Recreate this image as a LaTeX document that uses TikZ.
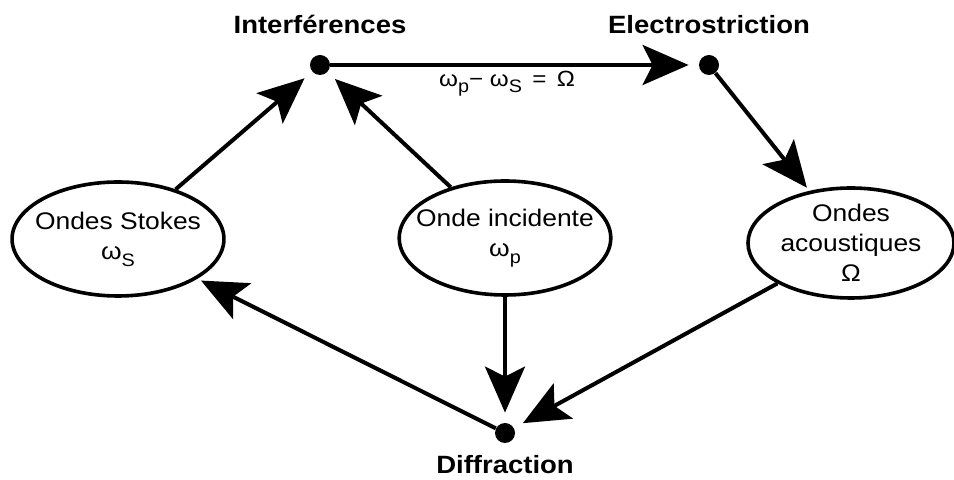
\documentclass[tikz,border=0pt]{standalone}
\usepackage{fontspec}
\setmainfont{Liberation Sans}[FakeStretch=1.1]
\usetikzlibrary{positioning,shapes.geometric,arrows.meta}
\newcommand{\lowsub}[1]{\raisebox{-0.55ex}{\fontsize{9}{9}\selectfont #1}}

\begin{document}
\begin{tikzpicture}[
  x=0.5pt, y=-0.5pt,
  every node/.style={font=\fontsize{12}{15}\selectfont},
  wave/.style={draw, ellipse, line width=1.8pt, align=center, inner ysep=0pt, inner xsep=-4pt, minimum width=105pt, minimum height=57pt},
  junction/.style={circle, fill, inner sep=0pt, minimum size=10pt},
  effect/.style={font=\fontsize{12.5}{14}\selectfont\bfseries, inner sep=0pt},
  arrow/.style={-{Stealth[length=23pt,width=20pt,inset=5pt]}, line width=2pt},
  todot/.style={arrow, shorten >=5pt}
]
\useasboundingbox (0,0) rectangle (954,480);

% the three events
\node[junction] (interf) at (320,65) {};
\node[junction] (electro) at (709,65) {};
\node[junction] (diffr) at (505,433) {};
\node[effect, above=10pt of interf] (interflabel) {Interférences};
\node[effect, above=10pt of electro] (electrolabel) {Electrostriction};
\node[effect, below=6pt of diffr] (diffrlabel) {Diffraction};

% the three waves
\node[wave] (stokes) at (118,239) {Ondes Stokes\\ω\lowsub{S}};
\node[wave, inner xsep=-7pt] (incid) at (505,238) {Onde incidente\\ω\lowsub{p}};
\node[wave, minimum width=103pt, minimum height=55pt] (acoust) at (851,243) {Ondes\\acoustiques\\Ω};

\draw[todot] (interf) -- node[below, pos=0.48, font=\fontsize{11}{13}\selectfont, inner sep=2pt] (beat) {ω\lowsub{p}− ω\lowsub{S} \,=\, Ω} (electro);
\draw[arrow, shorten >=2pt] (electro) -- (acoust);
\draw[todot] (stokes) -- (interf);
\draw[todot] (incid) -- (interf);
\draw[todot] (incid) -- (diffr);
\draw[todot] (acoust) -- (diffr);
\draw[arrow, shorten >=2pt] (diffr) -- (stokes);
\end{tikzpicture}
\end{document}
